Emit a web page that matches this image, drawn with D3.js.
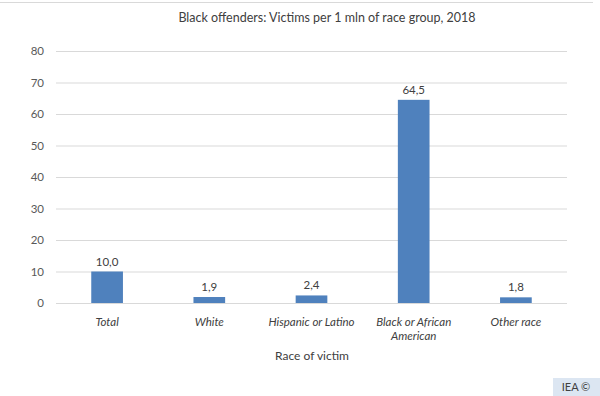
<!DOCTYPE html>
<html><head><meta charset="utf-8">
<script src="https://cdn.jsdelivr.net/npm/d3@7"></script>
<style>body{margin:0;background:#fff;}svg{display:block;font-family:Lato,"Open Sans",sans-serif;}</style>
</head><body><svg id="c" width="600" height="396"></svg>
<script>
const categories = ["Total", "White", "Hispanic or Latino", "Black or African American", "Other race"];
const categoryLines = [["Total"], ["White"], ["Hispanic or Latino"], ["Black or African", "American"], ["Other race"]];
const values = [10.0, 1.9, 2.4, 64.5, 1.8];
const yTicks = [0, 10, 20, 30, 40, 50, 60, 70, 80];
const title = "Black offenders: Victims per 1 mln of race group, 2018";
const xTitle = "Race of victim";

const svg = d3.select("#c");
const W = 600, H = 396;
const m = {l: 56, r: 33, t: 51, b: 93};
const x = d3.scaleBand().domain(categories).range([m.l, W - m.r]).paddingInner(0.69).paddingOuter(0.345);
const y = d3.scaleLinear().domain([0, 80]).range([H - m.b, m.t]);

// top separator line
svg.append("line").attr("x1", 0).attr("x2", 593).attr("y1", 2.5).attr("y2", 2.5).attr("stroke", "#d9d9d9");

svg.append("text").attr("x", 327).attr("y", 22).attr("text-anchor", "middle")
  .attr("font-size", 12.5).attr("fill", "#404040").text(title);

const ya = svg.append("g").attr("transform", `translate(${m.l},0)`)
  .call(d3.axisLeft(y).tickValues(yTicks).tickSize(-(W - m.l - m.r)).tickPadding(12).tickFormat(d3.format("d")));
ya.select(".domain").remove();
ya.selectAll(".tick line").attr("stroke", "#d9d9d9");
ya.selectAll(".tick text").attr("fill", "#595959").attr("font-size", 11.5).attr("font-family", "Lato,'Open Sans',sans-serif");

svg.selectAll("rect.bar").data(values).join("rect").attr("class", "bar")
  .attr("x", (d, i) => x(categories[i])).attr("width", x.bandwidth())
  .attr("y", d => y(d)).attr("height", d => y(0) - y(d)).attr("fill", "#4f81bd");

svg.selectAll("text.val").data(values).join("text").attr("class", "val")
  .attr("x", (d, i) => x(categories[i]) + x.bandwidth() / 2).attr("y", d => y(d) - 6)
  .attr("text-anchor", "middle").attr("font-size", 11.5).attr("fill", "#404040")
  .text(d => d.toFixed(1).replace(".", ","));

const xl = svg.selectAll("text.cat").data(categories).join("text").attr("class", "cat")
  .attr("x", d => x(d) + x.bandwidth() / 2).attr("y", 326)
  .attr("text-anchor", "middle").attr("font-size", 11.5).attr("font-style", "italic").attr("fill", "#404040");
xl.each(function(d, i) {
  const t = d3.select(this);
  categoryLines[i].forEach((ln, j) => t.append("tspan").attr("x", x(d) + x.bandwidth() / 2).attr("dy", j ? 13.5 : 0).text(ln));
});

svg.append("text").attr("x", 312).attr("y", 360).attr("text-anchor", "middle")
  .attr("font-size", 12).attr("fill", "#404040").text(xTitle);

svg.append("rect").attr("x", 553).attr("y", 378).attr("width", 47).attr("height", 18).attr("fill", "#dce6f2");
svg.append("text").attr("x", 576).attr("y", 391).attr("text-anchor", "middle")
  .attr("font-size", 11).attr("fill", "#404040").text("IEA ©");
</script></body></html>
